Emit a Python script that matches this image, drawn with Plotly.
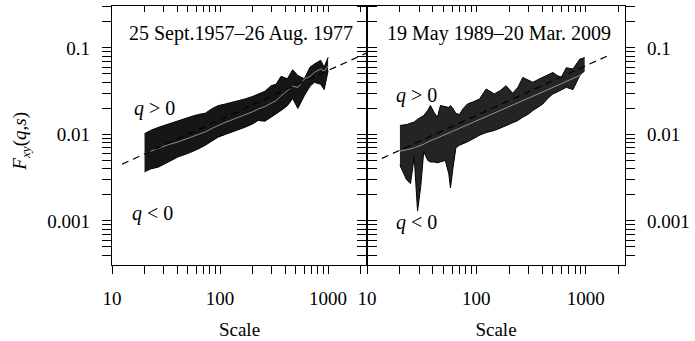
import math
import plotly.graph_objects as go

# ---------------- data ----------------
scale_left = [20, 23, 27, 33, 41, 50, 55, 63, 73, 85, 96, 112, 128, 150, 170,
              200, 225, 260, 297, 330, 367, 420, 470, 525, 602, 680, 745, 853, 920, 1000]
f_left_qmax = [0.0102, 0.0112, 0.0121, 0.0132, 0.0145, 0.0156, 0.0162, 0.0170, 0.0176, 0.0200,
               0.0215, 0.0225, 0.0235, 0.0245, 0.0257, 0.0275, 0.0294, 0.0315, 0.0366, 0.0380,
               0.0470, 0.0440, 0.0560, 0.0480, 0.0440, 0.0600, 0.0650, 0.0720, 0.0600, 0.0780]
f_left_qmin = [0.0037, 0.0040, 0.0042, 0.0048, 0.0055, 0.0060, 0.0063, 0.0068, 0.0075, 0.0085,
               0.0093, 0.0100, 0.0106, 0.0113, 0.0121, 0.0132, 0.0145, 0.0142, 0.0158, 0.0175,
               0.0189, 0.0215, 0.0260, 0.0200, 0.0280, 0.0360, 0.0400, 0.0380, 0.0330, 0.0544]
f_left_q2 = [0.0060, 0.0064, 0.0069, 0.0076, 0.0082, 0.0090, 0.0094, 0.0100, 0.0107, 0.0118,
             0.0127, 0.0138, 0.0147, 0.0158, 0.0168, 0.0183, 0.0197, 0.0210, 0.0230, 0.0245,
             0.0280, 0.0320, 0.0360, 0.0350, 0.0436, 0.0470, 0.0520, 0.0570, 0.0540, 0.0620]

scale_right = [20, 23, 25, 27, 29, 31, 33, 36, 38, 41, 44, 47, 52, 56, 58, 61, 65, 70, 76, 83,
               95, 107, 123, 146, 165, 187, 215, 240, 266, 300, 329, 365, 406, 450, 501, 550,
               598, 665, 766, 881, 980]
f_right_qmax = [0.0127, 0.0130, 0.0135, 0.0139, 0.0150, 0.0158, 0.0165, 0.0190, 0.0216, 0.0180,
                0.0158, 0.0216, 0.0210, 0.0205, 0.0216, 0.0200, 0.0175, 0.0170, 0.0200, 0.0225,
                0.0240, 0.0257, 0.0335, 0.0294, 0.0320, 0.0366, 0.0300, 0.0350, 0.0456, 0.0420,
                0.0400, 0.0430, 0.0456, 0.0490, 0.0520, 0.0480, 0.0456, 0.0590, 0.0570, 0.0740,
                0.0774]
f_right_qmin = [0.0044, 0.0030, 0.0027, 0.0055, 0.0013, 0.0025, 0.0063, 0.0050, 0.0048, 0.0048,
                0.0047, 0.0048, 0.0050, 0.0035, 0.0024, 0.0040, 0.0070, 0.0075, 0.0078, 0.0082,
                0.0090, 0.0098, 0.0105, 0.0111, 0.0118, 0.0127, 0.0135, 0.0145, 0.0158, 0.0172,
                0.0189, 0.0205, 0.0225, 0.0260, 0.0294, 0.0310, 0.0330, 0.0350, 0.0330, 0.0476,
                0.0544]
f_right_q2 = [0.0064, 0.0066, 0.0068, 0.0070, 0.0072, 0.0074, 0.0077, 0.0082, 0.0085, 0.0088,
              0.0091, 0.0095, 0.0100, 0.0104, 0.0106, 0.0110, 0.0113, 0.0118, 0.0124, 0.0130,
              0.0140, 0.0150, 0.0163, 0.0178, 0.0190, 0.0203, 0.0218, 0.0232, 0.0246, 0.0262,
              0.0275, 0.0292, 0.0310, 0.0330, 0.0350, 0.0366, 0.0385, 0.0410, 0.0440, 0.0480,
              0.0520]

# power-law fits (dashed lines): log10 F = intercept + slope * log10 s
fit_left = dict(slope=0.568, intercept=-2.965, s_from=12.4, s_to=2400)
fit_right = dict(slope=0.574, intercept=-2.929, s_from=13.7, s_to=1600)

titles = ["25 Sept.1957–26 Aug. 1977", "19 May 1989–20 Mar. 2009"]
x_ticks = [10, 20, 30, 40, 50, 60, 70, 80, 90, 100, 200, 300, 400, 500, 600, 700, 800, 900,
           1000, 2000]
x_tick_text = ["10", "", "", "", "", "", "", "", "", "100", "", "", "", "", "", "", "", "",
               "1000", ""]
y_ticks = [0.001, 0.01, 0.1]
y_tick_text = ["0.001", "0.01", "0.1"]
y_minor = [0.0004, 0.0005, 0.0006, 0.0007, 0.0008, 0.0009,
           0.002, 0.003, 0.004, 0.005, 0.006, 0.007, 0.008, 0.009,
           0.02, 0.03, 0.04, 0.05, 0.06, 0.07, 0.08, 0.09, 0.2, 0.3]

FONT = "Liberation Serif"
XR = [1.0, 3.36]
YR = [-3.51, -0.515]
split = 0.4971
LW = 1.3


def fit_xy(fit):
    xs = [fit["s_from"], fit["s_to"]]
    ys = [10 ** (fit["intercept"] + fit["slope"] * math.log10(v)) for v in xs]
    return xs, ys


fig = go.Figure()

panels = [
    ("x", "y", scale_left, f_left_qmin, f_left_qmax, f_left_q2, fit_left, "#161616"),
    ("x2", "y2", scale_right, f_right_qmin, f_right_qmax, f_right_q2, fit_right, "#242424"),
]
for xa, ya, s, lo, hi, mid, fit, fillc in panels:
    fig.add_trace(go.Scatter(x=s, y=lo, xaxis=xa, yaxis=ya, mode="lines",
                             line=dict(color="black", width=1), showlegend=False,
                             hoverinfo="skip"))
    fig.add_trace(go.Scatter(x=s, y=hi, xaxis=xa, yaxis=ya, mode="lines",
                             line=dict(color="black", width=1), fill="tonexty",
                             fillcolor=fillc, showlegend=False, hoverinfo="skip"))
    fig.add_trace(go.Scatter(x=s, y=mid, xaxis=xa, yaxis=ya, mode="lines",
                             line=dict(color="rgba(255,255,255,0.85)", width=0.6),
                             showlegend=False, hoverinfo="skip"))
    fx, fy = fit_xy(fit)
    fig.add_trace(go.Scatter(x=fx, y=fy, xaxis=xa, yaxis=ya, mode="lines",
                             line=dict(color="black", width=1.2, dash="7px,5px"),
                             showlegend=False, hoverinfo="skip"))

# tiny invisible points so the top overlay axes own a subplot
for xa, ya in [("x3", "y"), ("x4", "y2")]:
    fig.add_trace(go.Scatter(x=[100], y=[0.01], xaxis=xa, yaxis=ya, mode="markers",
                             marker=dict(opacity=0, size=1), showlegend=False,
                             hoverinfo="skip"))

tickfont = dict(family=FONT, size=19, color="black")


def xmain(domain, anchor):
    return dict(type="log", range=XR, domain=domain, anchor=anchor,
                tickmode="array", tickvals=x_ticks, ticktext=x_tick_text,
                ticks="outside", ticklen=8, tickwidth=LW, tickcolor="black",
                showline=True, linecolor="black", linewidth=LW, mirror=True,
                showgrid=False, zeroline=False, tickfont=tickfont, ticklabelstandoff=8,
                title=dict(text="Scale", font=dict(family=FONT, size=19, color="black"),
                           standoff=14))


def xtop(over, anchor):
    return dict(type="log", range=XR, overlaying=over, anchor=anchor, side="top",
                tickmode="array", tickvals=x_ticks, ticktext=[""] * len(x_ticks),
                showticklabels=False,
                ticks="inside", ticklen=6, tickwidth=LW, tickcolor="black",
                showline=True, linecolor="black", linewidth=LW,
                showgrid=False, zeroline=False)


def ymain(anchor, side):
    return dict(type="log", range=YR, anchor=anchor, side=side,
                tickmode="array", tickvals=y_ticks, ticktext=y_tick_text,
                ticks="outside", ticklen=9, tickwidth=LW, tickcolor="black",
                showline=True, linecolor="black", linewidth=LW, mirror="allticks",
                showgrid=False, zeroline=False, tickfont=tickfont, ticklabelstandoff=8,
                minor=dict(tickmode="array", tickvals=y_minor, ticks="outside",
                           ticklen=5, tickwidth=LW, tickcolor="black", showgrid=False))


fig.update_layout(
    width=695, height=341,
    margin=dict(l=112, r=64, t=5, b=76),
    paper_bgcolor="white", plot_bgcolor="white",
    font=dict(family=FONT, size=19, color="black"),
    xaxis=xmain([0, split], "y"),
    xaxis2=xmain([split, 1], "y2"),
    xaxis3=xtop("x", "y"),
    xaxis4=xtop("x2", "y2"),
    yaxis=ymain("x", "left"),
    yaxis2=ymain("x2", "right"),
)

ann_font = dict(family=FONT, size=20, color="black")
annotations = [
    dict(text=titles[0], x=0.2514, y=0.892),
    dict(text=titles[1], x=0.7553, y=0.892),
    dict(text="<i>q</i> &gt; 0", x=0.0385, y=0.604, xanchor="left"),
    dict(text="<i>q</i> &lt; 0", x=0.0347, y=0.200, xanchor="left"),
    dict(text="<i>q</i> &gt; 0", x=0.549, y=0.654, xanchor="left"),
    dict(text="<i>q</i> &lt; 0", x=0.549, y=0.165, xanchor="left"),
]
for a in annotations:
    fig.add_annotation(xref="paper", yref="paper", showarrow=False, font=ann_font,
                       xanchor=a.get("xanchor", "center"), yanchor="middle",
                       text=a["text"], x=a["x"], y=a["y"])

fig.add_annotation(xref="paper", yref="paper", showarrow=False,
                   text="<i>F</i><sub><i>xy</i></sub>(<i>q</i>,<i>s</i>)",
                   x=-0.177, y=0.477, xanchor="center", yanchor="middle",
                   textangle=-90, font=dict(family=FONT, size=19, color="black"))

fig.write_html("out.html")
